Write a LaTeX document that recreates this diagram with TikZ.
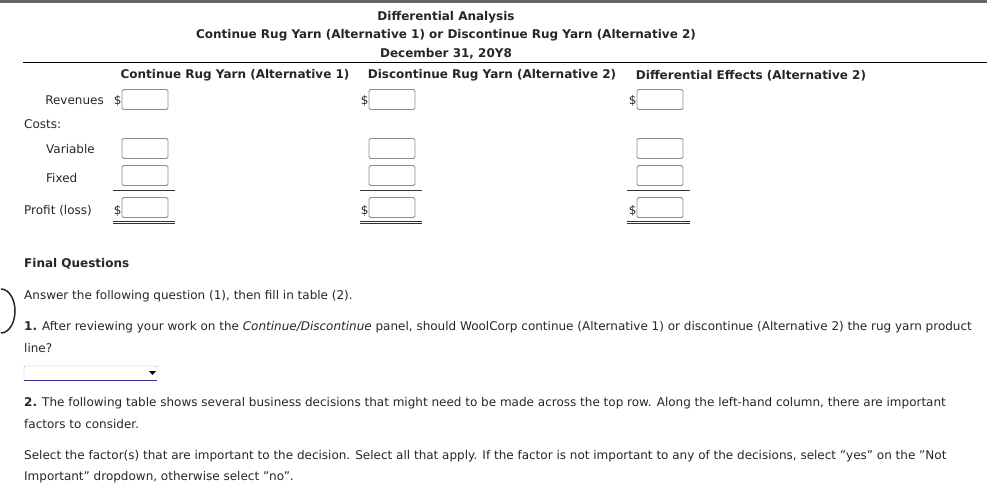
\documentclass[tikz,border=0pt]{standalone}
\usepackage{fontspec}
\setmainfont{DejaVu Sans}
\begin{document}
\begin{tikzpicture}[x=1pt,y=-1pt,
  txt/.style={inner sep=0pt,yshift=-1.5pt,font=\fontsize{12}{14}\selectfont,text=black!85},
  bt/.style={txt,font=\fontsize{12}{14}\selectfont\bfseries},
  inbox/.style={draw=black!45,rounded corners=1.5pt,line width=0.8pt,minimum width=46pt,minimum height=20pt,inner sep=0pt},
  dol/.style={txt,anchor=east}]
\useasboundingbox (0,0) rectangle (987,493);
\fill[black!60] (0,0) rectangle (987,2.5);
\node[bt] (t1) at (446,16) {Differential Analysis};
\node[bt] (t2) at (446,34) {Continue Rug Yarn (Alternative 1) or Discontinue Rug Yarn (Alternative 2)};
\node[bt] (t3) at (446,52) {December 31, 20Y8};
\draw[line width=1.6pt] (23,62.5) -- (987,62.5);
\node[bt] (h1) at (235,74) {Continue Rug Yarn (Alternative 1)};
\node[bt] (h2) at (492,74) {Discontinue Rug Yarn (Alternative 2)};
\node[bt] (h3) at (751,74) {Differential Effects (Alternative 2)};
\node[txt,anchor=east] (rev) at (104,99) {Revenues};
\node[txt,anchor=west] (costs) at (24,123) {Costs:};
\node[txt,anchor=west] (var) at (46,148) {Variable};
\node[txt,anchor=west] (fix) at (46,177) {Fixed};
\node[txt,anchor=west] (pl) at (24,209) {Profit (loss)};
\foreach \c/\x/\lx/\rx in {a/145/113/175, b/392/360/422, c/660/627/690}{
  \node[inbox] (\c1) at (\x,99.5) {};
  \node[inbox] (\c2) at (\x,148.5) {};
  \node[inbox] (\c3) at (\x,175.5) {};
  \node[inbox] (\c4) at (\x,207.5) {};
  \node[dol] at (\c1.west) {\$};
  \node[dol] at ([yshift=-1.5]\c4.west) {\$};
  \draw[black!80,line width=0.8pt] (\lx,190) -- (\rx,190);
  \draw[black!80,line width=0.8pt] (\lx,221) -- (\rx,221) (\lx,223.5) -- (\rx,223.5);
}
\node[bt,anchor=west] (fq) at (24,262) {Final Questions};
\draw[line width=1.5pt,black!85] (1,333) arc (90:-90:14 and 22);
\node[txt,anchor=west] (q0) at (24,295) {Answer the following question (1), then fill in table (2).};
\node[txt,anchor=west] (q1) at (24,326) {\textbf{1.} After reviewing your work on the \textit{Continue/Discontinue} panel, should WoolCorp continue (Alternative 1) or discontinue (Alternative 2) the rug yarn product};
\node[txt,anchor=west] (q1b) at (24,347) {line?};
\draw[black!35,rounded corners=1pt] (24,380) -- (24,366) -- (157,366) -- (157,380);
\draw[blue!50!black!80,line width=1.2pt] (24,380.5) -- (157,380.5);
\fill[black] (149,371) -- (156,371) -- (152.5,375) -- cycle;
\node[txt,anchor=west] (q2) at (24,402) {\textbf{2.} The following table shows several business decisions that might need to be made across the top row. Along the left-hand column, there are important};
\node[txt,anchor=west] (q2b) at (24,423) {factors to consider.};
\node[txt,anchor=west] (q3) at (24,455) {Select the factor(s) that are important to the decision. Select all that apply. If the factor is not important to any of the decisions, select "yes" on the "Not};
\node[txt,anchor=west] (q3b) at (24,476) {Important" dropdown, otherwise select "no".};
\end{tikzpicture}
\end{document}
